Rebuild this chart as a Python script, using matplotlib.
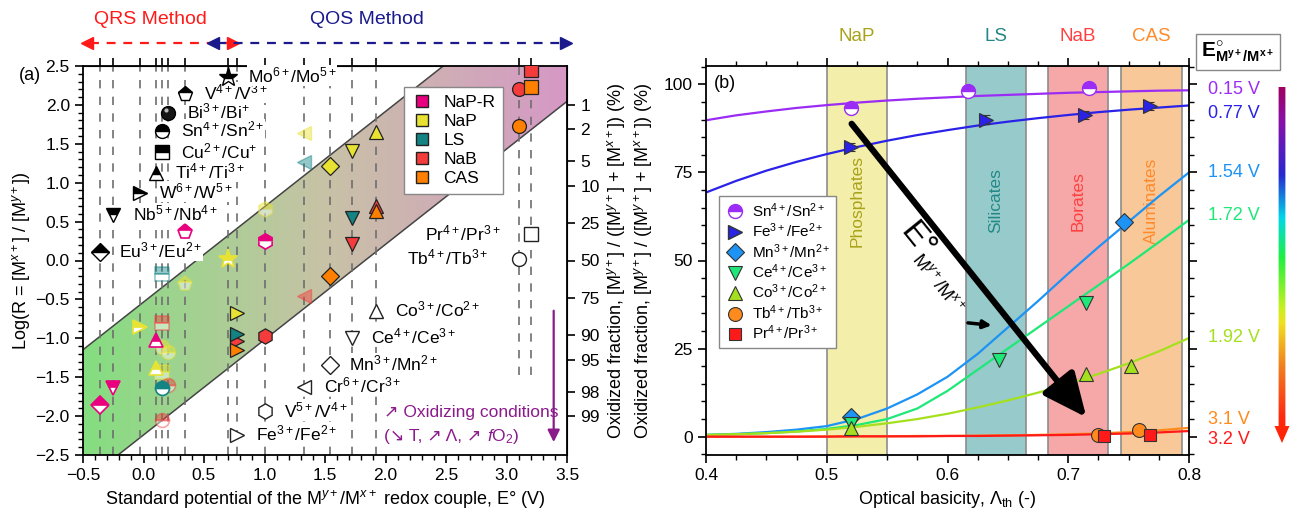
import numpy as np
import matplotlib
matplotlib.use('Agg')
import matplotlib.pyplot as plt
from matplotlib.colors import LinearSegmentedColormap
from matplotlib.patches import Polygon
from matplotlib.lines import Line2D
from matplotlib.ticker import MultipleLocator

plt.rcParams['font.family'] = ['Liberation Sans', 'DejaVu Sans']
plt.rcParams['mathtext.fontset'] = 'custom'
plt.rcParams['mathtext.rm'] = 'Liberation Sans'
plt.rcParams['mathtext.it'] = 'Liberation Sans:italic'
plt.rcParams['mathtext.bf'] = 'Liberation Sans:bold'
plt.rcParams['font.size'] = 12.5

# ---------------- panel (a) data ----------------
couples = ['Eu', 'Nb', 'W', 'Ti', 'Cu', 'Sn', 'Bi', 'V4', 'Mo',
           'Fe', 'V5', 'Cr', 'Mn', 'Ce', 'Co', 'Tb', 'Pr']
couple_E = [-0.36, -0.25, -0.03, 0.10, 0.15, 0.15, 0.20, 0.34, 0.70,
            0.77, 1.00, 1.33, 1.54, 1.72, 1.92, 3.10, 3.20]
couple_text = ['Eu$^{3+}$/Eu$^{2+}$', 'Nb$^{5+}$/Nb$^{4+}$', 'W$^{6+}$/W$^{5+}$',
               'Ti$^{4+}$/Ti$^{3+}$', 'Cu$^{2+}$/Cu$^{+}$', 'Sn$^{4+}$/Sn$^{2+}$',
               'Bi$^{3+}$/Bi$^{+}$', 'V$^{4+}$/V$^{3+}$', 'Mo$^{6+}$/Mo$^{5+}$',
               'Fe$^{3+}$/Fe$^{2+}$', 'V$^{5+}$/V$^{4+}$', 'Cr$^{6+}$/Cr$^{3+}$',
               'Mn$^{3+}$/Mn$^{2+}$', 'Ce$^{4+}$/Ce$^{3+}$', 'Co$^{3+}$/Co$^{2+}$',
               'Tb$^{4+}$/Tb$^{3+}$', 'Pr$^{4+}$/Pr$^{3+}$']
key_logR = [0.11, 0.59, 0.87, 1.13, 1.39, 1.67, 1.90, 2.14, 2.36,
            -2.24, -1.94, -1.62, -1.34, -0.99, -0.65, 0.02, 0.335]
short_lines = ['Tb', 'Pr']
short_line_end = -1.47

glasses = ['NaP-R', 'NaP', 'LS', 'NaB', 'CAS']

# (couple, glass, log R)
solid_pts = [('Fe', 'NaP', -0.67), ('Fe', 'NaB', -1.03), ('Fe', 'LS', -0.94), ('Fe', 'CAS', -1.15),
             ('V5', 'NaB', -0.97), ('Mn', 'NaP', 1.22), ('Mn', 'CAS', -0.20),
             ('Ce', 'NaP', 1.41), ('Ce', 'LS', 0.55), ('Ce', 'NaB', 0.21),
             ('Co', 'NaP', 1.65), ('Co', 'NaB', 0.70), ('Co', 'CAS', 0.64),
             ('Tb', 'NaB', 2.20), ('Tb', 'CAS', 1.73), ('Pr', 'NaB', 2.45), ('Pr', 'CAS', 2.23)]
half_pts = [('Eu', 'NaP-R', -1.86), ('Nb', 'NaP-R', -1.64), ('W', 'NaP', -0.85),
            ('Ti', 'NaP-R', -1.02), ('Ti', 'NaP', -1.38), ('Sn', 'LS', -1.64),
            ('Mo', 'NaP', 0.02), ('V5', 'NaP-R', 0.25), ('V4', 'NaP-R', 0.36)]
faded_half_pts = [('Cu', 'LS', -0.17), ('Cu', 'NaB', -0.80), ('Cu', 'NaP', -1.43),
                  ('Sn', 'NaP', -1.11), ('Sn', 'NaB', -2.05), ('Bi', 'NaP', -1.17),
                  ('Bi', 'NaB', -1.60), ('V4', 'NaP', -0.30), ('V5', 'NaP', 0.66)]
faded_full_pts = [('Cr', 'NaP', 1.64), ('Cr', 'LS', 1.26), ('Cr', 'NaB', -0.46)]

band_slope = 1.225          # log R per volt
band_upper_left = -1.147    # log R of upper edge at E = -0.5 V
band_lower_left = -2.855    # log R of lower edge at E = -0.5 V

pct_ticks = [1, 2, 5, 10, 25, 50, 75, 90, 95, 98, 99]

# ---------------- panel (b) data ----------------
lam = [0.400, 0.425, 0.450, 0.475, 0.500, 0.525, 0.550, 0.575, 0.600,
       0.625, 0.650, 0.675, 0.700, 0.725, 0.750, 0.775, 0.800]
curve_labels = ['0.15 V', '0.77 V', '1.54 V', '1.72 V', '1.92 V', '3.1 V', '3.2 V']
curve_015 = [89.8, 91.2, 92.3, 93.3, 94.1, 94.8, 95.4, 95.9, 96.3, 96.7, 97.0, 97.3, 97.6, 97.8, 98.0, 98.2, 98.3]
curve_077 = [69.3, 72.6, 75.5, 78.0, 80.2, 82.2, 84.0, 85.6, 87.0, 88.3, 89.4, 90.4, 91.3, 92.1, 92.8, 93.4, 94.0]
curve_154 = [0.5, 0.8, 1.3, 2.0, 3.0, 5.0, 8.0, 12.0, 17.0, 23.5, 31.0, 38.5, 46.3, 53.8, 61.0, 68.2, 75.0]
curve_172 = [0.5, 0.7, 1.0, 1.5, 2.2, 3.3, 5.0, 8.0, 13.0, 19.0, 25.0, 31.0, 37.0, 43.0, 49.0, 55.2, 61.5]
curve_192 = [0.5, 0.7, 1.0, 1.4, 2.0, 2.8, 3.8, 5.0, 6.5, 8.3, 10.3, 12.5, 15.0, 17.8, 20.8, 24.2, 28.0]
curve_310 = [0.0, 0.0, 0.0, 0.0, 0.1, 0.1, 0.1, 0.2, 0.2, 0.3, 0.4, 0.5, 0.7, 0.9, 1.3, 1.8, 2.5]
curve_320 = [0.0, 0.0, 0.0, 0.0, 0.0, 0.1, 0.1, 0.1, 0.2, 0.2, 0.3, 0.4, 0.5, 0.7, 0.9, 1.2, 1.6]

sn_lam, sn_val = [0.520, 0.617, 0.717], [93.3, 98.0, 99.0]
fe_lam, fe_val = [0.520, 0.632, 0.714, 0.768], [82.2, 90.0, 91.3, 93.8]
fe_err = [1.2, 1.2, 1.2, 1.2]
mn_lam, mn_val = [0.520, 0.746], [5.5, 61.0]
ce_lam, ce_val = [0.520, 0.643, 0.715], [3.5, 21.7, 37.8]
co_lam, co_val = [0.520, 0.715, 0.752], [2.5, 17.9, 20.0]
tb_lam, tb_val = [0.725, 0.7585], [0.6, 1.9]
pr_lam, pr_val = [0.730, 0.768], [0.3, 0.6]

band_names = ['NaP', 'LS', 'NaB', 'CAS']
band_lo = [0.500, 0.615, 0.683, 0.744]
band_hi = [0.550, 0.665, 0.733, 0.794]
band_long = ['Phosphates', 'Silicates', 'Borates', 'Aluminates']

# ---------------- styles ----------------
glass_color = {'NaP-R': '#e8007f', 'NaP': '#e8e332', 'LS': '#138383', 'NaB': '#f43c3c', 'CAS': '#ff7f00'}
couple_marker = {'Eu': 'D', 'Nb': 'v', 'W': '>', 'Ti': '^', 'Cu': 's', 'Sn': 'o', 'Bi': 'o',
                 'V4': 'p', 'Mo': '*', 'Fe': '>', 'V5': 'h', 'Cr': '<', 'Mn': 'D', 'Ce': 'v',
                 'Co': '^', 'Tb': 'o', 'Pr': 's'}
marker_size = {'D': 9, '*': 14, 'p': 11, 'h': 11}
curve_colors = ['#9b2cf5', '#2a22e6', '#1c93f5', '#1ee878', '#a4e01e', '#ff8a1e', '#ff1a1a']
band_fill = ['#f3eeaa', '#97caca', '#f6a8a8', '#f9c898']
band_text = ['#aaa21a', '#238888', '#ff4040', '#ff8a2a']

fig = plt.figure(figsize=(12.9, 5.16), dpi=100)


def fx(px):
    return px / 1290


def fy(py):
    return 1 - py / 516


ax = fig.add_axes([fx(83), fy(455), (567 - 83) / 1290, (455 - 66) / 516])
bx = fig.add_axes([fx(706), fy(455), (1189 - 706) / 1290, (455 - 66) / 516])

# ======== panel (a) ========
E_edges = np.array([-0.5, 3.5])
up = band_slope * (E_edges + 0.5) + band_upper_left
lo = band_slope * (E_edges + 0.5) + band_lower_left
poly = Polygon([(E_edges[0], up[0]), (E_edges[1], up[1]), (E_edges[1], lo[1]), (E_edges[0], lo[0])],
               closed=True, facecolor='none', edgecolor='none', transform=ax.transData)
ax.add_patch(poly)
band_cmap = LinearSegmentedColormap.from_list('band', ['#84de80', '#c8c2a6', '#d698c6'])
im = ax.imshow(np.linspace(0, 1, 256).reshape(1, -1), extent=[-0.5, 3.5, -2.5, 2.5],
               aspect='auto', cmap=band_cmap, origin='lower', zorder=0.5, interpolation='bilinear')
im.set_clip_path(poly)
ax.plot(E_edges, up, color='#444444', lw=1.1, zorder=1)
ax.plot(E_edges, lo, color='#444444', lw=1.1, zorder=1)

line_E = sorted(set(couple_E))
for e in line_E:
    names = [c for c, ce in zip(couples, couple_E) if ce == e]
    ymin = short_line_end if names[0] in short_lines else -2.5
    ax.vlines(e, ymin, 2.5, colors='#6e6e6e', linestyles=(0, (5, 5)), lw=1.2, zorder=2)

for i, c in enumerate(couples):
    m = couple_marker[c]
    ms = marker_size.get(m, 10)
    if i < 9:
        if c == 'Bi':
            ax.plot(couple_E[i], key_logR[i], marker='o', ms=ms, mfc='#151515', mec='k', zorder=4)
            ax.plot(couple_E[i] - 0.012, key_logR[i] + 0.035, marker='o', ms=3, mfc='#bbbbbb',
                    mec='none', zorder=4.1)
        else:
            ax.plot(couple_E[i], key_logR[i], marker=m, ms=ms, fillstyle='top', mfc='k',
                    mfcalt='white', mec='k', mew=1.0, zorder=4)
    else:
        ax.plot(couple_E[i], key_logR[i], marker=m, ms=ms, mfc='white', mec='#222222',
                mew=1.0, zorder=4)
    if c in short_lines:
        off, ha = -22, 'right'
    else:
        off, ha = 14, 'left'
    ax.annotate(couple_text[i], (couple_E[i], key_logR[i]), xytext=(off, 1), textcoords='offset points',
                ha=ha, va='center', fontsize=12.5, zorder=3,
                bbox=dict(fc='white', ec='none', pad=0.5))


def draw_pts(pts, fill, alpha):
    for c, g, r in pts:
        m = couple_marker[c]
        ms = marker_size.get(m, 10)
        col = glass_color[g]
        if fill == 'solid':
            ax.plot(couple_E[couples.index(c)], r, marker=m, ms=ms, mfc=col, mec='#222222',
                    mew=0.9, zorder=5)
        elif fill == 'half':
            ax.plot(couple_E[couples.index(c)], r, marker=m, ms=ms, fillstyle='top', mfc=col,
                    mfcalt='white', mec=col, mew=1.2, alpha=alpha, zorder=5)
        else:
            ax.plot(couple_E[couples.index(c)], r, marker=m, ms=ms, mfc=col, mec=col,
                    mew=1.0, alpha=alpha, zorder=5)


draw_pts(faded_full_pts, 'full', 0.45)
draw_pts(faded_half_pts, 'half', 0.45)
draw_pts(half_pts, 'half', 1.0)
draw_pts(solid_pts, 'solid', 1.0)

ax.set_xlim(-0.5, 3.5)
ax.set_ylim(-2.5, 2.5)
ax.xaxis.set_major_locator(MultipleLocator(0.5))
ax.xaxis.set_minor_locator(MultipleLocator(0.1))
ax.yaxis.set_major_locator(MultipleLocator(0.5))
ax.yaxis.set_minor_locator(MultipleLocator(0.1))
ax.tick_params(which='major', direction='out', length=6, width=1.2, labelsize=12.5)
ax.tick_params(which='minor', direction='out', length=3.5, width=1)
for s in ax.spines.values():
    s.set_linewidth(1.3)
ax.set_xlabel('Standard potential of the M$^{y+}$/M$^{x+}$ redox couple, E° (V)', fontsize=13)
ax.set_ylabel('Log(R = [M$^{x+}$] / [M$^{y+}$])', fontsize=13, labelpad=2)

top = ax.secondary_xaxis('top')
top.set_xticks(line_E)
top.set_xticklabels([])
top.tick_params(direction='out', length=6, width=1.2)

right = ax.secondary_yaxis('right')
right.set_yticks([np.log10((100 - p) / p) for p in pct_ticks])
right.set_yticklabels([str(p) for p in pct_ticks])
right.tick_params(direction='out', length=6, width=1.2, labelsize=12.5)
right.set_ylabel('Oxidized fraction, [M$^{y+}$] / ([M$^{y+}$] + [M$^{x+}$]) (%)', fontsize=13, labelpad=4)

leg = ax.legend([Line2D([], [], ls='none', marker='s', ms=9, mfc=glass_color[g], mec='#222222')
                 for g in glasses], glasses, loc='upper left', bbox_to_anchor=(0.646, 0.968),
                fontsize=12.5, frameon=True, fancybox=False, edgecolor='#888888', framealpha=1,
                labelspacing=0.22, handletextpad=0.7, borderpad=0.45, handlelength=1.1)
leg.set_zorder(6)

# method arrows above panel (a)
ax.plot([-0.44, 0.71], [2.79, 2.79], ls=(0, (4, 3.5)), color='#ff1a1a', lw=1.6, clip_on=False)
ax.plot([-0.467], [2.79], marker='<', color='#ff1a1a', ms=9, clip_on=False)
ax.plot([0.74], [2.79], marker='>', color='#ff1a1a', ms=9, clip_on=False)
ax.plot([0.61, 3.46], [2.79, 2.79], ls=(0, (4, 3.5)), color='#1a1a8c', lw=1.6, clip_on=False)
ax.plot([0.574], [2.79], marker='<', color='#1a1a8c', ms=9, clip_on=False)
ax.plot([3.49], [2.79], marker='>', color='#1a1a8c', ms=9, clip_on=False)
ax.text(0.06, 3.1, 'QRS Method', color='#ff1a1a', fontsize=14, ha='center', va='center')
ax.text(1.85, 3.1, 'QOS Method', color='#1a1a8c', fontsize=14, ha='center', va='center')

# oxidizing conditions
purple = '#8b1a8b'
ax.annotate('', xy=(3.39, -2.37), xytext=(3.39, -0.61),
            arrowprops=dict(arrowstyle='-|>', color=purple, lw=1.6, mutation_scale=18))
ax.text(1.99, -1.955, '↗ Oxidizing conditions', color=purple, fontsize=12.5, va='center', zorder=6)
t_ox = ax.text(1.99, -2.265, '(↘ T, ↗ Λ, ↗ ', color=purple, fontsize=12.5, va='center', zorder=6)
ax.annotate('$f$O$_2$)', xy=(1, 0.5), xycoords=t_ox, color=purple, fontsize=12.5,
            ha='left', va='center', zorder=6)

fig.text(fx(30), fy(75), '(a)', fontsize=13, ha='center', va='center')

# ======== panel (b) ========
for n, l0, h0, fc, tc, longn in zip(band_names, band_lo, band_hi, band_fill, band_text, band_long):
    bx.axvspan(l0, h0, facecolor=fc, edgecolor='#8c8c8c', lw=1.2, zorder=0)
    bx.text((l0 + h0) / 2, 1.077, n, transform=bx.get_xaxis_transform(), color=tc,
            fontsize=13.5, ha='center', va='center')
    bx.text((l0 + h0) / 2, 67, longn, color=tc, fontsize=12.5, rotation=90,
            ha='center', va='center', zorder=1)

curves = [curve_015, curve_077, curve_154, curve_172, curve_192, curve_310, curve_320]
for vals, col in zip(curves, curve_colors):
    bx.plot(lam, vals, color=col, lw=1.6, zorder=2)

mk = dict(ls='none', ms=10, mec='#333333', mew=0.8, zorder=5)
h_sn, = bx.plot(sn_lam, sn_val, marker='o', fillstyle='top', mfc=curve_colors[0], mfcalt='white',
                ls='none', ms=10, mec=curve_colors[0], mew=1.0, zorder=5)
h_fe = bx.errorbar(fe_lam, fe_val, yerr=fe_err, fmt='>', color=curve_colors[1], ecolor='#333333',
                   elinewidth=0.8, capsize=3, ms=10, mec='#333333', mew=0.8, zorder=5)
h_mn, = bx.plot(mn_lam, mn_val, marker='D', mfc=curve_colors[2], **dict(mk, ms=9))
h_ce, = bx.plot(ce_lam, ce_val, marker='v', mfc=curve_colors[3], **mk)
h_co, = bx.plot(co_lam, co_val, marker='^', mfc=curve_colors[4], **mk)
h_tb, = bx.plot(tb_lam, tb_val, marker='o', mfc=curve_colors[5], **mk)
h_pr, = bx.plot(pr_lam, pr_val, marker='s', mfc=curve_colors[6], **dict(mk, ms=9))

leg_b = bx.legend([h_sn, Line2D([], [], ls='none', marker='>', ms=10, mfc=curve_colors[1], mec='#333333'),
                   h_mn, h_ce, h_co, h_tb, h_pr],
                  ['Sn$^{4+}$/Sn$^{2+}$', 'Fe$^{3+}$/Fe$^{2+}$', 'Mn$^{3+}$/Mn$^{2+}$',
                   'Ce$^{4+}$/Ce$^{3+}$', 'Co$^{3+}$/Co$^{2+}$', 'Tb$^{4+}$/Tb$^{3+}$',
                   'Pr$^{4+}$/Pr$^{3+}$'],
                  loc='upper left', bbox_to_anchor=(0.012, 0.686), fontsize=11, frameon=True,
                  fancybox=False, edgecolor='#888888', framealpha=1, labelspacing=0.12,
                  handletextpad=0.5, borderpad=0.35, handlelength=1.3)
leg_b.set_zorder(6)

# big E° arrow
bx.annotate('', xy=(0.715, 5.5), xytext=(0.5206, 88.8),
            arrowprops=dict(arrowstyle='-|>,head_length=1.1,head_width=0.5', color='k', lw=4.5,
                            mutation_scale=24, shrinkA=0, shrinkB=0), zorder=7)
bx.text(0.5744, 55.7, 'E°', fontsize=24, rotation=-51, ha='center', va='center', zorder=7)
bx.text(0.591, 43.5, 'M$^{y+}$/M$^{x+}$', fontsize=13, rotation=-51, ha='center', va='center', zorder=7)
bx.annotate('', xy=(0.6365, 31.6), xytext=(0.6169, 32.3),
            arrowprops=dict(arrowstyle='-|>', color='k', lw=2.5, mutation_scale=12,
                            shrinkA=0, shrinkB=0), zorder=7)

bx.set_xlim(0.4, 0.8)
bx.set_ylim(-5.2, 105.2)
bx.xaxis.set_major_locator(MultipleLocator(0.1))
bx.xaxis.set_minor_locator(MultipleLocator(0.025))
bx.yaxis.set_major_locator(MultipleLocator(25))
bx.yaxis.set_minor_locator(MultipleLocator(5))
bx.tick_params(which='both', direction='out', top=True, right=True, labelsize=12.5)
bx.tick_params(which='major', length=6, width=1.2)
bx.tick_params(which='minor', length=3.5, width=1)
for s in bx.spines.values():
    s.set_linewidth(1.3)
bx.set_xlabel('Optical basicity, Λ$_{\\rm th}$ (-)', fontsize=13)
bx.set_ylabel('Oxidized fraction, [M$^{y+}$] / ([M$^{y+}$] + [M$^{x+}$]) (%)', fontsize=13, labelpad=6)
bx.text(0.016, 0.954, '(b)', transform=bx.transAxes, fontsize=13, ha='left', va='center')

# E° legend on the right
for lab, col, py in zip(curve_labels, curve_colors, [90, 113, 173, 215, 337, 419, 439]):
    fig.text(fx(1208), fy(py), lab, color=col, fontsize=13, ha='left', va='center')
fig.text(fx(1238), fy(52), r'$\mathbf{E^{\circ}_{M^{y+}/M^{x+}}}$', fontsize=15,
         ha='center', va='center',
         bbox=dict(fc='white', ec='#888888', lw=1, boxstyle='square,pad=0.25'))

# colour gradient arrow
cx = fig.add_axes([fx(1272), fy(446), 18 / 1290, (446 - 84) / 516])
cx.set_xlim(0, 18)
cx.set_ylim(446, 84)
cx.axis('off')
arrow_cmap = LinearSegmentedColormap.from_list('earrow', [
    (0.0, '#a0005a'), (0.1, '#8a10a8'), (0.25, '#2828d0'), (0.37, '#00d8e8'),
    (0.48, '#20f040'), (0.62, '#c8f020'), (0.66, '#f0e020'), (0.78, '#f08020'),
    (0.92, '#ff2a10'), (1.0, '#ff2000')])
shape = Polygon([(10 - 3.4, 87), (10 + 3.4, 87), (10 + 3.4, 426), (17.5, 426), (10, 443),
                 (2.5, 426), (10 - 3.4, 426)], closed=True, fc='none', ec='none', transform=cx.transData)
cx.add_patch(shape)
gim = cx.imshow(np.linspace(0, 1, 256).reshape(-1, 1), extent=[0, 18, 446, 84], aspect='auto',
                cmap=arrow_cmap, origin='upper', interpolation='bilinear')
gim.set_clip_path(shape)
cx.set_xlim(0, 18)
cx.set_ylim(446, 84)

fig.savefig('out.png', dpi=100)
